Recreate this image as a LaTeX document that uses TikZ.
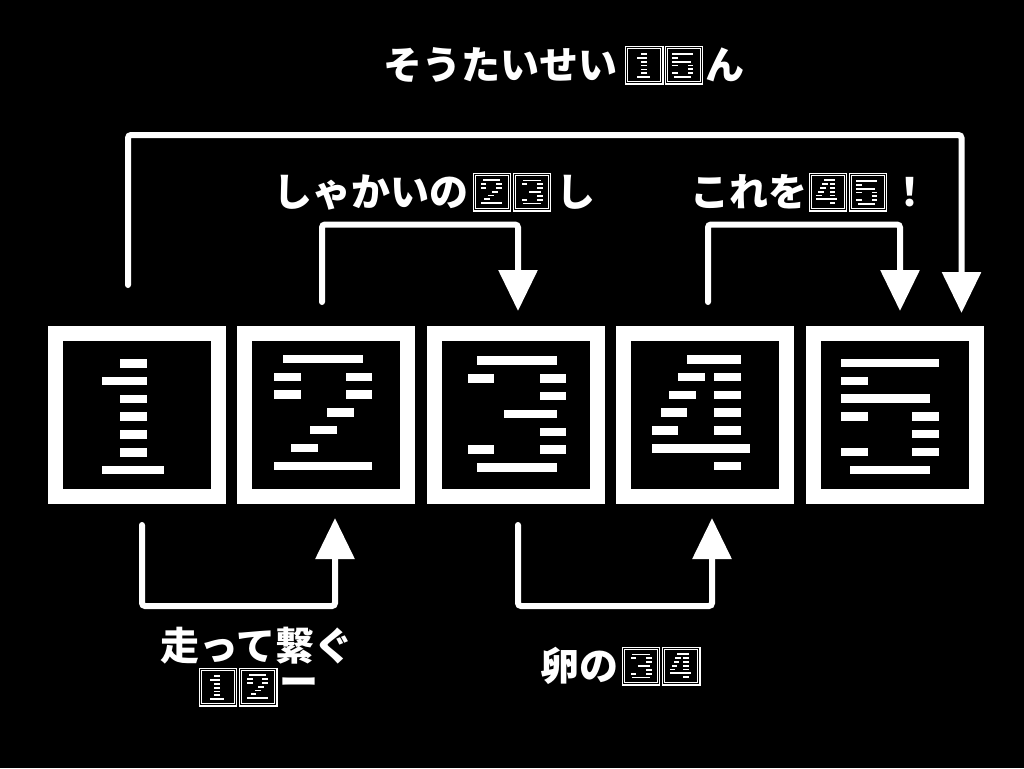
\documentclass[tikz,border=0pt]{standalone}
\usepackage{fontspec}
\newfontfamily\jpfont{Noto Sans CJK JP}
\usetikzlibrary{arrows.meta,positioning}

\tikzset{
  numbox/.style={draw=white,line width=15pt,minimum size=163pt,inner sep=0pt,outer sep=7.5pt},
  minibox/.style={draw=white,double=black,double distance=1pt,line width=1.2pt,minimum size=35.1pt,inner sep=0pt,outer sep=1.7pt,anchor=north west},
  link/.style={white,line width=6pt,line cap=round,rounded corners=3pt,-{Triangle[length=41pt,width=38pt]}},
  jptext/.style={white,inner sep=0pt,anchor=west,font=\jpfont\bfseries\fontsize{39}{39}\selectfont},
}

% bars of a digit: row/from/to (columns of 8.9), first row top
\newcommand\digitbars[2]{%
  \foreach \r/\a/\b in {#1}
    \fill[white] (\a*8.9,#2+\r*17.8) rectangle (\b*8.9,#2+\r*17.8+8.5);
}
\newcommand\numone{\digitbars{0/8.1/11.2,1/6.1/11.2,2/8.1/11.2,3/8.1/11.2,4/8.1/11.2,5/8.1/11.2,6/6.1/13.1}{33}}
\newcommand\numtwo{\digitbars{0/5.2/14.2,1/4.2/7.2,1/12.2/15.2,2/4.2/7.2,2/12.2/15.2,3/10.1/13.1,4/8.2/11.2,5/6.1/9.1,6/4.2/15.2}{28.7}}
\newcommand\numthree{\digitbars{0/5.7/14.7,1/4.7/7.6,1/12.7/15.7,2/12.7/15.7,3/8.7/14.7,4/12.7/15.7,5/4.7/7.6,5/12.7/15.7,6/5.7/14.7}{30.3}}
\newcommand\numfour{\digitbars{0/8/14,1/7/10,1/11/14,2/6/9,2/11/14,3/5/8,3/11/14,4/4/7,4/11/14,5/4/15,6/11/14}{29}}
\newcommand\numfive{\digitbars{0/4/15,1/4/7,2/4/14,3/4/7,3/12/15,4/12/15,5/4/7,5/12/15,6/5/14}{32.7}}
% digit drawn in a box node, #3 = scale
\newcommand\putnum[3]{\begin{scope}[shift={(#1.north west)},scale=#3]#2\end{scope}}

\begin{document}
\begin{tikzpicture}[x=1pt,y=-1pt]
\useasboundingbox (0,0) rectangle (1024,768);
\fill[black] (0,0) rectangle (1024,768);

% the five boxes
\foreach \i in {1,...,5}
  \node[numbox] (b\i) at (136.5+189.5*\i-189.5,415) {};
\putnum{b1}{\numone}{1}
\putnum{b2}{\numtwo}{1}
\putnum{b3}{\numthree}{1}
\putnum{b4}{\numfour}{1}
\putnum{b5}{\numfive}{1}

% labels
\node[jptext] (t15) at (383,65) {そうたいせい};
\node[minibox] (m15a) at (625,46) {};
\node[minibox] (m15b) at (664.5,46) {};
\node[jptext] (t15n) at (705,65) {ん};
\putnum{m15a}{\numone}{0.216}
\putnum{m15b}{\numfive}{0.216}

\node[jptext] (t23) at (273,192) {しゃかいの};
\node[minibox] (m23a) at (472.5,173) {};
\node[minibox] (m23b) at (512.5,173) {};
\node[jptext] (t23n) at (556,192) {し};
\putnum{m23a}{\numtwo}{0.216}
\putnum{m23b}{\numthree}{0.216}

\node[jptext] (t45) at (690,192) {これを};
\node[minibox] (m45a) at (808.5,173) {};
\node[minibox] (m45b) at (848.5,173) {};
\node[jptext] (t45n) at (890,192) {！};
\putnum{m45a}{\numfour}{0.216}
\putnum{m45b}{\numfive}{0.216}

\node[jptext] (t12) at (160,646) {走って繋ぐ};
\node[minibox] (m12a) at (198.5,668) {};
\node[minibox] (m12b) at (239,668) {};
\node[jptext] (t12n) at (279,687) {ー};
\putnum{m12a}{\numone}{0.216}
\putnum{m12b}{\numtwo}{0.216}

\node[jptext] (t34) at (540,666) {卵の};
\node[minibox] (m34a) at (621.5,647) {};
\node[minibox] (m34b) at (662,647) {};
\putnum{m34a}{\numthree}{0.216}
\putnum{m34b}{\numfour}{0.216}

% arrows
\coordinate (s15) at ([xshift=-8.5pt,yshift=41pt]b1.north);
\coordinate (e15) at ([xshift=-22pt,yshift=13pt]b5.north east);
\coordinate (s23) at ([xshift=-4pt,yshift=24pt]b2.north);
\coordinate (e23) at ([xshift=2.5pt,yshift=15pt]b3.north);
\coordinate (s45) at ([xshift=3pt,yshift=24pt]b4.north);
\coordinate (e45) at ([xshift=5.5pt,yshift=15pt]b5.north);
\coordinate (s12) at ([xshift=5.5pt,yshift=-21pt]b1.south);
\coordinate (e12) at ([xshift=9pt,yshift=-14pt]b2.south);
\coordinate (s34) at ([xshift=2.5pt,yshift=-21pt]b3.south);
\coordinate (e34) at ([xshift=7pt,yshift=-14pt]b4.south);
\coordinate (hi) at (0,135);
\coordinate (mid) at (0,224.5);
\coordinate (lo) at (0,606);

\draw[link] (s15) |- (e15 |- hi) -- (e15);
\draw[link] (s23) |- (e23 |- mid) -- (e23);
\draw[link] (s45) |- (e45 |- mid) -- (e45);
\draw[link] (s12) |- (e12 |- lo) -- (e12);
\draw[link] (s34) |- (e34 |- lo) -- (e34);
\end{tikzpicture}
\end{document}
